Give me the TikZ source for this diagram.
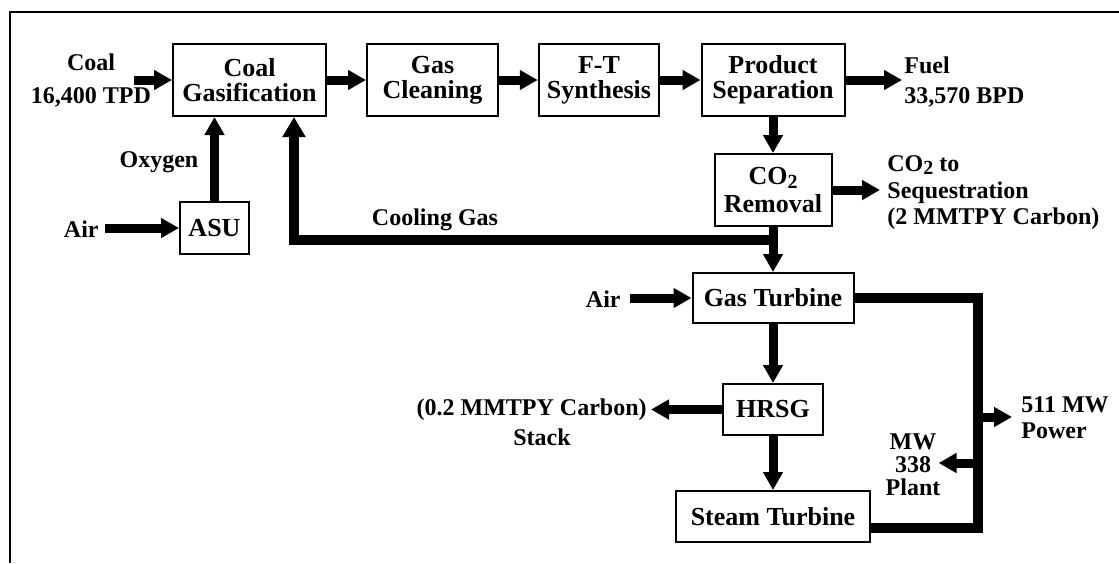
\documentclass[tikz,border=0pt]{standalone}
\usepackage{fontspec}
\setmainfont{Liberation Serif}
\usetikzlibrary{positioning, arrows.meta}

\newcommand{\cotwo}{CO\raisebox{-0.3ex}{\fontsize{10}{10}\selectfont 2}}

\begin{document}
\begin{tikzpicture}[x=0.5pt, y=-0.5pt, on grid, >={Triangle[length=9pt, width=9.5pt]},
    unit/.style={draw, line width=1pt, inner sep=0pt, align=center,
        font=\bfseries\fontsize{13}{12.5}\selectfont},
    lbl/.style={inner sep=0pt, font=\bfseries\fontsize{12}{13}\selectfont},
    flow/.style={->, line width=4.5pt},
    pipe/.style={line width=5pt}]
    \useasboundingbox (0,0) rectangle (1119,563);
    \draw[line width=1pt] (10.4,563) -- (10.4,12) -- (1119,12);

    % Units: liquids train across the top
    \node[unit, minimum width=76.5pt, minimum height=36pt] (gasif) at (249.5,80) {Coal\\Gasification};
    \node[unit, minimum width=65.5pt, minimum height=36pt] (clean) [right=91.5pt of gasif] {Gas\\Cleaning};
    \node[unit, minimum width=60.25pt, minimum height=36pt] (fts) [right=83.25pt of clean] {F-T\\Synthesis};
    \node[unit, minimum width=71.5pt, minimum height=36pt] (sep) [right=87pt of fts] {Product\\Separation};
    \node[unit, minimum width=34.5pt, minimum height=26pt] (asu) at (214.5,228) {ASU};

    % Units: power block down the right column
    \node[unit, minimum width=58.5pt, minimum height=36pt] (co2) [below=55pt of sep] {\cotwo\\[1.5pt]Removal};
    \node[unit, minimum width=80.5pt, minimum height=25pt] (gt) [below=54pt of co2] {Gas Turbine};
    \node[unit, minimum width=49.75pt, minimum height=25.5pt] (hrsg) [below=55.75pt of gt] {HRSG};
    \node[unit, minimum width=97pt, minimum height=25.5pt] (st) [below=53.5pt of hrsg] {Steam Turbine};

    % Stream ends
    \coordinate (coalin) at (134,80);
    \coordinate (asuair) at (105,228);
    \coordinate (gtair) at (630,298);
    \coordinate (fuelout) at (902,80);
    \coordinate (seqout) at (880,190);
    \coordinate (stackout) at (651,409.5);
    \coordinate (split) at (773,240);
    \coordinate (bus) at (978,527.5);
    \coordinate (tap511) at (978,417);
    \coordinate (out511) at (1012,417);
    \coordinate (tap338) at (978,463);
    \coordinate (out338) at (938.6,463);

    % Labels
    \node[lbl, align=center] (coal) at (91,81) {Coal\\[3.5pt]16,400 TPD};
    \node[lbl] (oxy) at (159,162) {Oxygen};
    \node[lbl, anchor=east] (air1) at (99,229) {Air};
    \node[lbl] (cool) at (435,220) {Cooling Gas};
    \node[lbl, anchor=west, align=left] (fuel) at (904,82) {Fuel\\[2pt]33,570 BPD};
    \node[lbl, anchor=west, align=left] (seq) at (887,192.5) {\cotwo{} to\\[0.5pt]Sequestration\\(2 MMTPY Carbon)};
    \node[lbl, anchor=east] (air2) at (621,299) {Air};
    \node[lbl, anchor=east] (carb) at (647,410) {(0.2 MMTPY Carbon)};
    \node[lbl] (stack) at (542,437) {Stack};
    \node[lbl, anchor=west, align=left] (power) at (1021,418) {511 MW\\Power};
    \node[lbl, align=center, font=\bfseries\fontsize{12}{11.5}\selectfont] (plant) at (913,465) {MW\\338\\Plant};

    % Streams
    \draw[flow] (coalin) -- (gasif);
    \draw[flow] (gasif) -- (clean);
    \draw[flow] (clean) -- (fts);
    \draw[flow] (fts) -- (sep);
    \draw[flow] (sep) -- (fuelout);
    \draw[flow] (asuair) -- (asu);
    \draw[flow] (asu) -- (asu |- gasif.south);
    \draw[flow] (sep) -- (co2);
    \draw[flow] (co2) -- (seqout);
    \draw[flow] (co2) -- (gt);
    \draw[pipe, -{Triangle[length=10pt, width=11pt]}] (split) -| ([xshift=22.25pt]gasif.south);
    \draw[flow] (gtair) -- (gt);
    \draw[flow] (gt) -- (hrsg);
    \draw[flow] (hrsg) -- (stackout);
    \draw[flow] (hrsg) -- (st);
    \draw[pipe] (gt.east) -| (bus) -- ([yshift=-5.5pt]st.east);
    \draw[flow] (tap511) -- (out511);
    \draw[flow] (tap338) -- (out338);
\end{tikzpicture}
\end{document}
